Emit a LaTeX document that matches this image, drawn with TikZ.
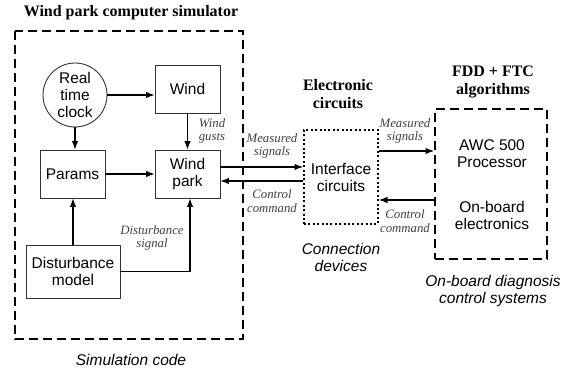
\documentclass[tikz,border=0pt]{standalone}
\usepackage{fontspec}
\setmainfont{Liberation Sans}
\newfontfamily\tnr{Liberation Serif}
\usetikzlibrary{arrows.meta}
\begin{document}
\begin{tikzpicture}[x=1pt, y=-1pt,
    blk/.style={draw=black!80, line width=0.9pt, align=center, inner sep=0pt,
        font=\fontsize{15.5}{17}\selectfont},
    lbl/.style={align=center, text=black!75, font=\tnr\itshape\fontsize{12.8}{13.5}\selectfont},
    ttl/.style={align=center, font=\tnr\bfseries\fontsize{16}{18}\selectfont},
    capt/.style={align=center, font=\itshape\fontsize{15.5}{17}\selectfont},
    arr/.style={-{Latex[length=8.5pt,width=6.5pt]}, line width=1.1pt},
    grp/.style={draw, line width=2pt, dash pattern=on 9pt off 5pt}]
    \useasboundingbox (0,0) rectangle (571,371);

    % 仿真部分
    \draw[grp] (15,31) rectangle (243,339);
    \node[ttl] (simtitle) at (131,13) {Wind park computer simulator};
    \node[capt] (simcap) at (131,360) {Simulation code};

    \node[blk, circle, minimum size=64pt] (clock) at (75,95) {Real\\time\\clock};
    \node[blk, minimum width=65pt, minimum height=48pt] (wind) at (187.5,89) {Wind};
    \node[blk, minimum width=65pt, minimum height=48pt] (park) at (187.5,174) {Wind\\park};
    \node[blk, minimum width=65pt, minimum height=48pt] (params) at (72.5,174) {Params};
    \node[blk, minimum width=94pt, minimum height=53pt] (dist) at (73,271.5) {Disturbance\\model};

    \draw[arr] (clock) -- (clock -| wind.west);
    \draw[arr] (clock.south) -- (clock.south |- params.north);
    \draw[arr] (wind) -- (park);
    \draw[arr] (params) -- (park);
    \draw[arr] (dist.north) -- (dist.north |- params.south);
    \draw[arr] (dist.east) -| ([xshift=2.5pt]park.south);

    \node[lbl] (gusts) at (212,131) {Wind\\gusts};
    \node[lbl] (distsig) at (152,238) {Disturbance\\signal};

    % 接口电路
    \node[ttl] (elect) at (338,94) {Electronic\\circuits};
    \node[draw, line width=2pt, dash pattern=on 2pt off 2.4pt, minimum width=74pt,
        minimum height=94pt, align=center, font=\fontsize{15.5}{17}\selectfont]
        (iface) at (341,177) {Interface\\circuits};
    \node[capt] (conn) at (341,257) {Connection\\devices};

    \draw[arr] ([yshift=7pt]park.east) -- ([yshift=7pt]park.east -| iface.west);
    \draw[arr] ([yshift=-7pt]park.east -| iface.west) -- ([yshift=-7pt]park.east);
    \node[lbl] (meas1) at (272,146) {Measured\\signals};
    \node[lbl] (ctrl1) at (272,201) {Control\\command};

    % 机载系统
    \node[ttl] (fdd) at (493,82) {FDD + FTC\\algorithms};
    \node[grp, minimum width=112pt, minimum height=150pt] (board) at (491,184) {};
    \node[font=\fontsize{15.5}{17}\selectfont, align=center] (awc) at (492,154) {AWC 500\\Processor};
    \node[font=\fontsize{15.5}{17}\selectfont, align=center] (obe) at (492,215) {On-board\\electronics};
    \node[capt] (diag) at (493,291) {On-board diagnosis\\control systems};

    \draw[arr] ([yshift=26pt]iface.east) -- ([yshift=26pt]iface.east -| board.west);
    \draw[arr] ([yshift=-23pt]iface.east -| board.west) -- ([yshift=-23pt]iface.east);
    \node[lbl] (meas2) at (405,131) {Measured\\signals};
    \node[lbl] (ctrl2) at (405,221) {Control\\command};
\end{tikzpicture}
\end{document}
